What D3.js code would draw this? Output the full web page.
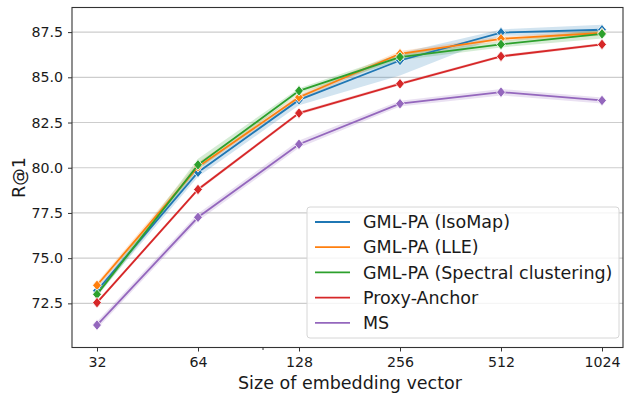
<!DOCTYPE html>
<html>
<head>
<meta charset="utf-8">
<script src="https://cdn.jsdelivr.net/npm/d3@7"></script>
<style>
  body { margin: 0; background: #fff; }
  text { font-family: "DejaVu Sans", sans-serif; fill: #1a1a1a; }
</style>
</head>
<body>
<div id="container"></div>
<script>
// embedding sizes on a log2 axis
var sizes = [32, 64, 128, 256, 512, 1024];
var yTicks = [72.5, 75.0, 77.5, 80.0, 82.5, 85.0, 87.5];

var names = ['GML-PA (IsoMap)', 'GML-PA (LLE)', 'GML-PA (Spectral clustering)', 'Proxy-Anchor', 'MS'];
var colors = ['#1f77b4', '#ff7f0e', '#2ca02c', '#d62728', '#9467bd'];

// mean R@1 per series
var isomap   = [73.2, 79.75, 83.75, 85.93, 87.47, 87.63];
var lle      = [73.5, 80.05, 83.9, 86.3, 87.13, 87.45];
var spectral = [73.0, 80.16, 84.25, 86.12, 86.82, 87.4];
var proxy    = [72.54, 78.8, 83.02, 84.64, 86.16, 86.82];
var ms       = [71.3, 77.26, 81.3, 83.54, 84.18, 83.72];

// confidence band (low / high)
var isomapLo   = [72.95, 79.5, 83.45, 85.1, 87.3, 87.35];
var isomapHi   = [73.4, 80.0, 84.0, 86.35, 87.65, 87.9];
var lleLo      = [73.35, 79.9, 83.75, 86.15, 87.0, 87.3];
var lleHi      = [73.65, 80.3, 84.05, 86.45, 87.25, 87.6];
var spectralLo = [72.85, 79.9, 84.1, 85.95, 86.65, 87.15];
var spectralHi = [73.15, 80.5, 84.4, 86.3, 87.0, 87.65];
var proxyLo    = [72.45, 78.7, 82.93, 84.56, 86.08, 86.74];
var proxyHi    = [72.63, 78.9, 83.11, 84.72, 86.24, 86.9];
var msLo       = [71.1, 77.05, 81.1, 83.38, 84.0, 83.55];
var msHi       = [71.5, 77.47, 81.5, 83.7, 84.36, 83.89];

var series = [
  { name: names[0], color: colors[0], y: isomap, lo: isomapLo, hi: isomapHi },
  { name: names[1], color: colors[1], y: lle, lo: lleLo, hi: lleHi },
  { name: names[2], color: colors[2], y: spectral, lo: spectralLo, hi: spectralHi },
  { name: names[3], color: colors[3], y: proxy, lo: proxyLo, hi: proxyHi },
  { name: names[4], color: colors[4], y: ms, lo: msLo, hi: msHi }
];

var width = 624,
    height = 396;

// plot frame (window.top is reserved, so prefixed names)
var plotLeft = 72, plotRight = 623, plotTop = 7.5, plotBottom = 347.5;

var svg = d3.select('div#container')
    .append('svg')
    .attr('width', width)
    .attr('height', height);

var x = d3.scaleLog().base(2).domain([32, 1024]).range([97, 602]);
var y = d3.scaleLinear().domain([70.06, 88.86]).range([plotBottom, plotTop]);

// horizontal grid
svg.append('g')
    .selectAll('line')
    .data(yTicks)
    .enter().append('line')
    .attr('x1', plotLeft).attr('x2', plotRight)
    .attr('y1', function(d) { return y(d); })
    .attr('y2', function(d) { return y(d); })
    .attr('stroke', '#cdcdcd')
    .attr('stroke-width', 1.2);

var plot = svg.append('g');

var area = d3.area()
    .x(function(d, i) { return x(sizes[i]); })
    .y0(function(d) { return y(d[0]); })
    .y1(function(d) { return y(d[1]); });

var line = d3.line()
    .x(function(d, i) { return x(sizes[i]); })
    .y(function(d) { return y(d); });

series.forEach(function(s) {
  plot.append('path')
      .datum(s.lo.map(function(v, i) { return [v, s.hi[i]]; }))
      .attr('d', area)
      .attr('fill', s.color)
      .attr('fill-opacity', 0.2);
});

series.forEach(function(s) {
  plot.append('path')
      .datum(s.y)
      .attr('d', line)
      .attr('fill', 'none')
      .attr('stroke', s.color)
      .attr('stroke-width', 1.8);
  plot.selectAll(null)
      .data(s.y)
      .enter().append('path')
      .attr('d', 'M0,-5.3L4.4,0L0,5.3L-4.4,0Z')
      .attr('transform', function(d, i) {
        return 'translate(' + x(sizes[i]) + ',' + y(d) + ')';
      })
      .attr('fill', s.color)
      .attr('stroke', '#fff')
      .attr('stroke-width', 0.8);
});

// frame
svg.append('rect')
    .attr('x', plotLeft).attr('y', plotTop)
    .attr('width', plotRight - plotLeft).attr('height', plotBottom - plotTop)
    .attr('fill', 'none')
    .attr('stroke', '#333')
    .attr('stroke-width', 1.1);

// x axis
var xAxis = d3.axisBottom(x)
    .tickValues(sizes)
    .tickFormat(d3.format('d'))
    .tickSize(4)
    .tickPadding(5);
var gx = svg.append('g')
    .attr('transform', 'translate(0,' + plotBottom + ')')
    .call(xAxis);
gx.select('.domain').remove();
gx.selectAll('text').attr('font-size', 14.2).style('font-family', '"DejaVu Sans", sans-serif').attr('fill', '#1a1a1a');
gx.selectAll('line').attr('stroke', '#333');
// minor tick at 100
gx.append('line')
    .attr('x1', x(100)).attr('x2', x(100))
    .attr('y1', 0).attr('y2', 2.5)
    .attr('stroke', '#333');

// y axis
var yAxis = d3.axisLeft(y)
    .tickValues(yTicks)
    .tickFormat(d3.format('.1f'))
    .tickSize(4)
    .tickPadding(5);
var gy = svg.append('g')
    .attr('transform', 'translate(' + plotLeft + ',0)')
    .call(yAxis);
gy.select('.domain').remove();
gy.selectAll('text').attr('font-size', 14.2).style('font-family', '"DejaVu Sans", sans-serif').attr('fill', '#1a1a1a');
gy.selectAll('line').attr('stroke', '#333');

svg.append('text')
    .attr('x', 350)
    .attr('y', 389)
    .attr('text-anchor', 'middle')
    .attr('font-size', 17.5)
    .text('Size of embedding vector');

svg.append('text')
    .attr('transform', 'translate(25,' + ((plotTop + plotBottom) / 2) + ') rotate(-90)')
    .attr('text-anchor', 'middle')
    .attr('font-size', 17.5)
    .text('R@1');

// legend
var legend = svg.append('g').attr('transform', 'translate(307,207)');
legend.append('rect')
    .attr('width', 312).attr('height', 131)
    .attr('rx', 3)
    .attr('fill', '#fff').attr('fill-opacity', 0.8)
    .attr('stroke', '#d6d6d6');

var items = legend.selectAll('g.item')
    .data(series)
    .enter().append('g')
    .attr('class', 'item')
    .attr('transform', function(d, i) { return 'translate(0,' + (15 + i * 25.2) + ')'; });
items.append('line')
    .attr('x1', 8).attr('x2', 43)
    .attr('stroke', function(d) { return d.color; })
    .attr('stroke-width', 1.8);
items.append('text')
    .attr('x', 56)
    .attr('dy', '0.35em')
    .attr('font-size', 17.5)
    .text(function(d) { return d.name; });
</script>
</body>
</html>
